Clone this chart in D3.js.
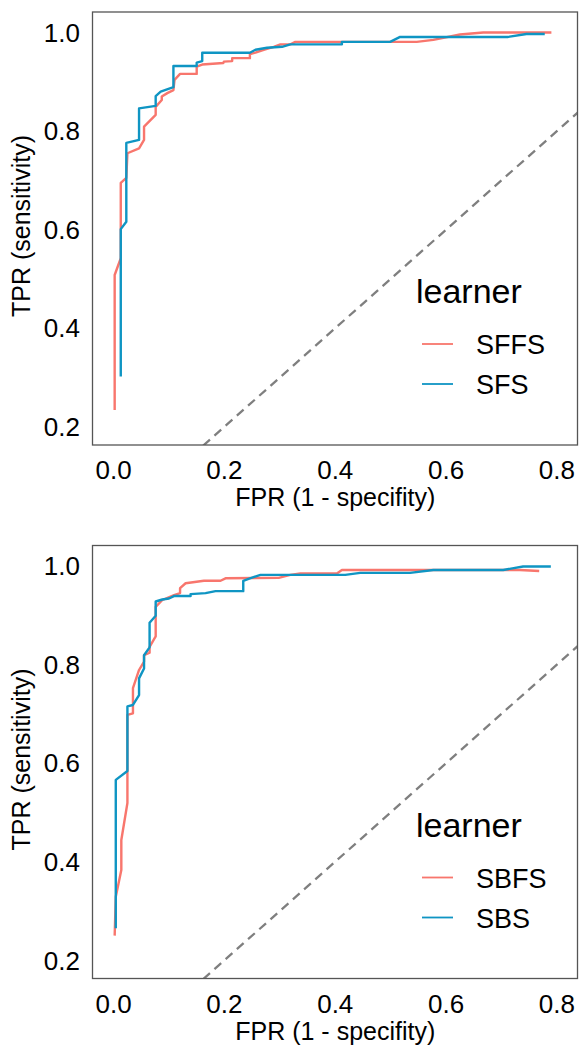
<!DOCTYPE html>
<html>
<head>
<meta charset="utf-8">
<script src="https://cdn.jsdelivr.net/npm/d3@7"></script>
<style>
body { margin: 0; background: #fff; }
svg text { font-family: "Liberation Sans", Arial, sans-serif; fill: #000; }
</style>
</head>
<body>
<svg id="chart" width="579" height="1048"></svg>
<script>
// [FPR, TPR] points
var sffs = [[0.002,0.234],[0.002,0.508],[0.013,0.542],[0.013,0.695],[0.023,0.705],[0.025,0.755],
  [0.046,0.765],[0.055,0.782],[0.055,0.809],[0.076,0.833],[0.076,0.849],[0.087,0.863],[0.087,0.870],
  [0.097,0.877],[0.108,0.883],[0.110,0.904],[0.120,0.916],[0.150,0.916],[0.150,0.931],[0.160,0.935],
  [0.198,0.938],[0.199,0.941],[0.214,0.942],[0.214,0.948],[0.246,0.948],[0.246,0.956],[0.256,0.959],
  [0.271,0.965],[0.289,0.971],[0.301,0.976],[0.319,0.976],[0.328,0.981],[0.547,0.981],[0.577,0.985],
  [0.625,0.996],[0.667,1.0],[0.790,1.0]];
var sfs = [[0.013,0.302],[0.013,0.601],[0.023,0.616],[0.023,0.776],[0.046,0.782],[0.046,0.846],
  [0.076,0.851],[0.076,0.871],[0.085,0.880],[0.108,0.889],[0.108,0.932],[0.150,0.932],[0.150,0.939],
  [0.160,0.942],[0.160,0.959],[0.246,0.959],[0.256,0.965],[0.277,0.969],[0.304,0.971],[0.319,0.976],
  [0.412,0.976],[0.412,0.981],[0.499,0.981],[0.517,0.991],[0.712,0.991],[0.745,0.997],[0.778,0.997]];
var sbfs = [[0.002,0.250],[0.004,0.329],[0.014,0.383],[0.014,0.444],[0.025,0.519],[0.025,0.698],
  [0.035,0.701],[0.035,0.752],[0.046,0.789],[0.055,0.806],[0.055,0.819],[0.065,0.824],[0.065,0.836],
  [0.076,0.857],[0.076,0.917],[0.088,0.931],[0.109,0.941],[0.120,0.945],[0.120,0.955],[0.130,0.965],
  [0.163,0.970],[0.193,0.970],[0.202,0.975],[0.298,0.976],[0.319,0.982],[0.337,0.985],[0.403,0.985],
  [0.412,0.992],[0.733,0.992],[0.768,0.990]];
var sbs = [[0.004,0.265],[0.004,0.566],[0.025,0.584],[0.025,0.715],[0.035,0.718],[0.046,0.738],
  [0.046,0.772],[0.055,0.792],[0.055,0.819],[0.065,0.835],[0.065,0.885],[0.076,0.899],[0.076,0.928],
  [0.088,0.932],[0.100,0.934],[0.109,0.939],[0.139,0.939],[0.139,0.943],[0.166,0.945],[0.184,0.949],
  [0.234,0.949],[0.234,0.970],[0.246,0.975],[0.265,0.982],[0.418,0.982],[0.445,0.986],[0.535,0.986],
  [0.577,0.992],[0.703,0.992],[0.739,0.999],[0.789,0.999]];

var xTicks = [0, 0.2, 0.4, 0.6, 0.8];
var yTicks = [0.2, 0.4, 0.6, 0.8, 1.0];
var topLearners = ["SFFS", "SFS"];
var bottomLearners = ["SBFS", "SBS"];
var colors = ["#F8766D", "#0F95C3"];

var svg = d3.select("#chart");
var fmt = d3.format(".1f");

function drawPanel(top, names, series, id) {
  var x = d3.scaleLinear().domain([-0.038, 0.838]).range([92.5, 578]);
  var y = d3.scaleLinear().domain([0.163, 1.0416]).range([top + 433, top]);
  var g = svg.append("g");

  g.append("clipPath").attr("id", "clip" + id)
    .append("rect").attr("x", 92.5).attr("y", top).attr("width", 485.5).attr("height", 433);

  // chance line
  g.append("line")
    .attr("clip-path", "url(#clip" + id + ")")
    .attr("x1", x(0)).attr("y1", y(0)).attr("x2", x(1)).attr("y2", y(1))
    .attr("stroke", "#7f7f7f").attr("stroke-width", 2.3).attr("stroke-dasharray", "9,6");

  var line = d3.line().x(function(d){ return x(d[0]); }).y(function(d){ return y(d[1]); });
  series.forEach(function(s, i) {
    g.append("path").datum(s)
      .attr("d", line)
      .attr("fill", "none")
      .attr("stroke", colors[i])
      .attr("stroke-width", 2.4)
      .attr("stroke-linejoin", "round");
  });

  g.append("rect")
    .attr("x", 92.5).attr("y", top).attr("width", 485).attr("height", 433)
    .attr("fill", "none").attr("stroke", "#555").attr("stroke-width", 1.3);

  g.selectAll(".xt").data(xTicks).enter().append("text")
    .attr("x", function(d){ return x(d); })
    .attr("y", top + 467)
    .attr("text-anchor", "middle")
    .style("font-size", "26px")
    .text(fmt);

  g.selectAll(".yt").data(yTicks).enter().append("text")
    .attr("x", 80)
    .attr("y", function(d){ return y(d) + 9.3; })
    .attr("text-anchor", "end")
    .style("font-size", "26px")
    .text(fmt);

  g.append("text")
    .attr("x", x(0.4)).attr("y", top + 494)
    .attr("text-anchor", "middle")
    .style("font-size", "25px")
    .text("FPR (1 - specifity)");

  g.append("text")
    .attr("transform", "translate(30," + (top + 214) + ") rotate(-90)")
    .attr("text-anchor", "middle")
    .style("font-size", "25px")
    .text("TPR (sensitivity)");

  // legend
  g.append("text")
    .attr("x", 416).attr("y", top + 291)
    .style("font-size", "34px")
    .text("learner");
  names.forEach(function(n, i) {
    var ly = top + 332 + i * 40;
    g.append("line")
      .attr("x1", 422).attr("x2", 453).attr("y1", ly).attr("y2", ly)
      .attr("stroke", colors[i]).attr("stroke-width", 1.8);
    g.append("text")
      .attr("x", 476).attr("y", ly + 10)
      .style("font-size", "27px")
      .text(n);
  });
}

drawPanel(12, topLearners, [sffs, sfs], 1);
drawPanel(545.5, bottomLearners, [sbfs, sbs], 2);
</script>
</body>
</html>
